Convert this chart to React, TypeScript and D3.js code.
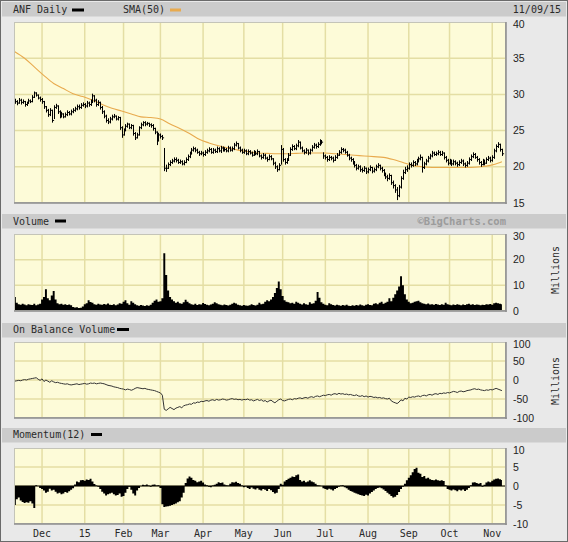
import React from 'react';
import * as d3 from 'd3';

// ---------- DATA ----------
const monthLabels = ["Dec", "15", "Feb", "Mar", "Apr", "May", "Jun", "Jul", "Aug", "Sep", "Oct", "Nov"];
const monthStartDays = [14, 36, 56, 75, 97, 118, 138, 160, 182, 203, 224, 246];

const closes = [
  29.0, 28.8, 29.2, 28.9, 29.0, 28.6, 28.8, 29.1, 29.0, 29.6,
  30.2, 29.9, 29.5, 29.3, 29.0, 28.3, 27.8, 27.2, 27.8, 26.4,
  28.2, 28.4, 27.6, 27.0, 27.3, 26.9, 27.2, 27.5, 27.3, 27.6,
  27.8, 28.0, 28.3, 28.2, 28.5, 28.6, 28.4, 28.8, 28.6, 29.0,
  29.8, 29.2, 28.6, 28.9, 28.2, 27.6, 27.0, 26.4, 26.2, 26.6,
  26.9, 27.0, 26.6, 26.8, 25.4, 24.4, 25.0, 25.6, 25.9, 25.4,
  25.7, 24.6, 24.0, 24.4, 25.4, 25.8, 26.1, 25.9, 26.0, 25.8,
  25.7, 25.3, 24.8, 23.6, 24.4, 24.2, 24.0, 19.8, 19.8, 20.3,
  20.6, 20.8, 21.0, 20.9, 20.6, 20.7, 20.4, 20.6, 21.0, 21.4,
  21.8, 22.3, 22.5, 22.3, 22.0, 21.8, 21.9, 21.7, 22.0, 22.2,
  22.4, 22.0, 22.3, 22.1, 22.5, 22.2, 22.6, 22.3, 22.4, 22.2,
  22.6, 22.3, 22.5, 23.0, 23.2, 22.6, 22.3, 22.0, 22.2, 21.8,
  22.1, 21.9, 21.6, 22.0, 21.8, 22.1, 21.5, 21.3, 21.6, 21.2,
  21.0, 21.4, 21.1, 20.5, 20.0, 19.6, 20.2, 22.4, 21.0, 20.6,
  20.9, 21.6, 22.4, 22.8, 22.5, 22.9, 23.4, 22.6, 22.2, 22.0,
  22.3, 21.9, 22.3, 22.7, 23.0, 22.8, 23.1, 23.5, 23.4, 21.5,
  21.3, 21.0, 21.3, 21.2, 20.9, 21.3, 21.6, 22.0, 22.4, 22.3,
  22.0, 21.6, 21.2, 21.0, 20.6, 20.2, 19.8, 20.0, 19.6, 19.5,
  19.8, 19.3, 19.6, 19.9, 19.4, 19.6, 20.0, 20.2, 19.8, 19.5,
  19.0, 18.6, 18.4, 18.8, 17.8, 17.4, 16.8, 16.0, 17.2, 18.4,
  19.2, 19.6, 19.8, 20.3, 20.2, 20.6, 20.4, 20.8, 21.1, 21.3,
  19.9, 20.4, 20.8, 21.2, 21.5, 21.9, 21.7, 21.8, 22.0, 21.7,
  21.9, 21.3, 20.9, 20.5, 20.8, 20.4, 20.7, 20.5, 20.3, 20.6,
  20.8, 20.4, 20.2, 20.5, 21.0, 21.4, 21.7, 21.3, 21.0, 20.6,
  20.3, 20.8, 20.5, 21.0, 21.2, 20.9, 21.3, 22.2, 22.8, 23.1,
  22.4, 21.8,
];

const highs = [
  29.4, 29.2, 29.5, 29.4, 29.3, 29.1, 29.0, 29.4, 29.3, 29.9,
  30.4, 30.3, 30.0, 29.7, 29.5, 29.1, 28.4, 28.0, 28.1, 27.9,
  28.5, 28.7, 28.5, 27.8, 27.6, 27.4, 27.5, 27.8, 27.7, 27.9,
  28.1, 28.3, 28.6, 28.6, 28.8, 28.9, 28.8, 29.1, 29.0, 29.3,
  30.1, 29.9, 29.4, 29.2, 29.0, 28.4, 27.8, 27.2, 26.7, 26.9,
  27.2, 27.3, 27.1, 27.0, 26.9, 25.6, 25.3, 25.9, 26.1, 26.0,
  25.9, 25.8, 24.8, 24.7, 25.6, 26.1, 26.3, 26.3, 26.2, 26.1,
  26.0, 25.9, 25.4, 24.9, 24.7, 24.6, 24.4, 22.6, 20.3, 20.6,
  20.9, 21.1, 21.3, 21.3, 21.1, 21.0, 20.9, 20.9, 21.3, 21.7,
  22.1, 22.6, 22.8, 22.7, 22.5, 22.2, 22.2, 22.1, 22.3, 22.5,
  22.7, 22.6, 22.6, 22.5, 22.8, 22.7, 22.9, 22.8, 22.7, 22.6,
  22.9, 22.8, 22.8, 23.3, 23.5, 23.3, 22.8, 22.5, 22.5, 22.4,
  22.4, 22.3, 22.1, 22.3, 22.2, 22.4, 22.2, 21.7, 21.9, 21.8,
  21.4, 21.7, 21.6, 21.2, 20.7, 20.2, 20.5, 23.0, 22.6, 21.2,
  21.2, 21.9, 22.7, 23.1, 23.0, 23.2, 23.7, 23.5, 22.8, 22.4,
  22.6, 22.4, 22.5, 23.0, 23.3, 23.2, 23.4, 23.8, 23.7, 22.0,
  21.7, 21.5, 21.6, 21.5, 21.4, 21.6, 21.9, 22.3, 22.7, 22.6,
  22.5, 22.2, 21.8, 21.4, 21.2, 20.8, 20.4, 20.3, 20.2, 19.9,
  20.1, 19.9, 19.9, 20.2, 20.0, 19.9, 20.3, 20.5, 20.3, 20.0,
  19.7, 19.2, 18.9, 19.1, 18.9, 18.1, 17.6, 17.2, 17.5, 18.7,
  19.6, 20.0, 20.2, 20.6, 20.6, 20.9, 20.8, 21.1, 21.4, 21.7,
  21.4, 20.7, 21.1, 21.5, 21.8, 22.2, 22.1, 22.1, 22.3, 22.2,
  22.2, 22.0, 21.5, 21.1, 21.1, 21.0, 21.0, 20.9, 20.7, 20.9,
  21.1, 21.0, 20.6, 20.8, 21.3, 21.7, 22.0, 21.9, 21.5, 21.2,
  20.8, 21.1, 21.0, 21.3, 21.5, 21.4, 21.6, 22.5, 23.1, 23.4,
  23.2, 22.5,
];

const lows = [
  28.7, 28.5, 28.7, 28.6, 28.7, 28.3, 28.4, 28.7, 28.8, 28.9,
  29.5, 29.7, 29.3, 29.0, 28.7, 28.0, 27.5, 26.9, 27.0, 26.1,
  26.6, 28.0, 27.3, 26.7, 26.8, 26.7, 26.8, 27.0, 27.1, 27.1,
  27.4, 27.6, 27.8, 27.9, 28.0, 28.3, 28.1, 28.2, 28.3, 28.4,
  28.8, 28.9, 28.3, 28.4, 27.9, 27.3, 26.7, 26.1, 25.9, 26.0,
  26.4, 26.7, 26.4, 26.4, 25.1, 24.0, 24.3, 24.9, 25.4, 25.2,
  25.2, 24.3, 23.7, 23.9, 24.3, 25.2, 25.6, 25.6, 25.7, 25.5,
  25.4, 25.0, 24.5, 23.0, 23.5, 23.9, 23.7, 19.4, 19.3, 19.7,
  20.1, 20.4, 20.6, 20.6, 20.4, 20.4, 20.2, 20.2, 20.5, 20.8,
  21.2, 21.7, 22.1, 22.0, 21.8, 21.5, 21.6, 21.4, 21.5, 21.8,
  22.0, 21.8, 21.8, 21.9, 21.9, 22.0, 21.9, 22.1, 22.1, 22.0,
  22.0, 22.1, 22.1, 22.3, 22.8, 22.4, 22.0, 21.8, 21.8, 21.6,
  21.6, 21.7, 21.4, 21.5, 21.6, 21.6, 21.3, 21.0, 21.1, 21.0,
  20.7, 20.9, 20.9, 20.2, 19.7, 19.3, 19.5, 20.3, 20.7, 20.3,
  20.4, 20.8, 21.5, 22.2, 22.3, 22.3, 22.7, 22.4, 22.0, 21.7,
  21.8, 21.6, 21.7, 22.1, 22.5, 22.5, 22.6, 22.9, 23.1, 21.1,
  21.0, 20.7, 20.8, 20.9, 20.6, 20.8, 21.1, 21.5, 21.8, 22.0,
  21.8, 21.4, 20.9, 20.7, 20.3, 19.9, 19.5, 19.6, 19.3, 19.2,
  19.3, 19.0, 19.1, 19.4, 19.1, 19.2, 19.4, 19.8, 19.5, 19.2,
  18.7, 18.3, 18.0, 18.2, 17.5, 17.0, 16.4, 15.4, 15.8, 17.0,
  18.2, 19.0, 19.3, 19.6, 19.9, 20.0, 20.1, 20.2, 20.6, 20.9,
  19.2, 19.7, 20.2, 20.6, 21.0, 21.3, 21.5, 21.5, 21.6, 21.5,
  21.5, 21.0, 20.6, 20.2, 20.3, 20.1, 20.2, 20.2, 20.0, 20.1,
  20.4, 20.1, 19.9, 20.0, 20.3, 20.8, 21.2, 21.1, 20.7, 20.3,
  20.0, 20.2, 20.2, 20.4, 20.8, 20.6, 20.7, 21.1, 22.0, 22.6,
  22.1, 21.5,
];

const smaDays = [0, 5, 10, 15, 20, 25, 30, 35, 40, 45, 50, 55, 60, 65, 70, 75, 80, 85, 90, 95, 100,
  105, 110, 115, 120, 125, 130, 135, 140, 145, 150, 155, 160, 165, 170, 175, 180, 185, 190, 195, 200,
  205, 210, 215, 220, 225, 230, 235, 240, 245, 250, 251];
const smaValues = [35.9, 35.0, 33.8, 32.6, 31.5, 30.8, 30.1, 29.7, 29.2, 28.6, 28.1, 27.7, 27.3, 26.9, 26.8, 26.6, 25.9, 25.3, 24.6, 23.8, 23.3,
  22.9, 22.6, 22.3, 22.1, 21.9, 21.85, 21.8, 21.8, 21.85, 21.9, 21.9, 21.9, 21.8, 21.7, 21.6, 21.5, 21.4, 21.3, 21.0, 20.6,
  20.2, 20.0, 19.9, 19.9, 19.9, 19.9, 19.9, 20.0, 20.2, 20.6, 20.7];

const volumes = [
  5.5, 3.2, 2.6, 2.4, 2.8, 2.5, 2.2, 2.6, 2.4, 2.3,
  2.8, 2.2, 2.5, 2.8, 4.5, 5.5, 8.5, 5.0, 4.2, 6.0,
  7.8, 4.5, 3.0, 2.6, 2.8, 2.4, 2.6, 2.3, 2.5, 2.2,
  1.6, 1.4, 1.5, 1.2, 1.3, 1.8, 2.6, 3.0, 4.2, 3.5,
  3.2, 2.6, 2.4, 2.8, 2.5, 2.4, 2.7, 2.5, 2.9, 2.4,
  2.3, 2.6, 2.2, 2.5, 3.0, 2.8, 3.6, 4.2, 3.0, 2.4,
  3.8, 3.2, 2.6, 2.2, 2.0, 2.3, 2.1, 1.9, 2.2, 2.0,
  2.4, 3.2, 4.0, 4.5, 3.6, 3.8, 5.0, 22.5, 14.0, 8.0,
  5.5, 4.5, 3.8, 3.2, 3.6, 3.0, 2.8, 3.4, 4.4, 3.6,
  3.0, 2.6, 2.4, 2.8, 2.3, 2.6, 2.5, 3.1, 2.7, 2.4,
  2.2, 2.5, 2.8, 3.4, 3.0, 2.6, 2.4, 2.2, 2.5, 2.3,
  2.1, 2.4, 2.8, 3.2, 2.9, 2.4, 2.2, 2.0, 2.3, 2.1,
  2.0, 2.2, 2.6, 2.3, 2.1, 2.4, 3.2, 2.6, 2.8, 3.6,
  4.2, 3.8, 4.5, 5.5, 7.0, 9.0, 11.5, 8.5, 5.8, 4.2,
  3.6, 3.4, 3.0, 3.2, 2.8, 3.6, 3.2, 2.8, 2.5, 3.0,
  2.6, 2.4, 3.4, 2.8, 3.0, 4.0, 7.4, 5.2, 3.4, 2.8,
  2.4, 2.2, 3.0, 2.6, 2.3, 2.1, 2.4, 2.2, 2.0, 2.3,
  2.1, 2.4, 2.0, 1.9, 2.2, 2.0, 2.3, 2.1, 2.5, 2.2,
  2.0, 2.4, 2.6, 2.3, 2.2, 2.8, 3.0, 2.6, 3.2, 3.6,
  2.8, 3.2, 3.6, 5.0, 3.8, 5.2, 6.5, 8.0, 9.5, 13.5,
  10.0, 6.5, 4.5, 3.6, 3.0, 3.2, 3.6, 3.8, 4.0, 3.4,
  3.0, 2.8, 2.6, 2.9, 2.5, 2.6, 2.4, 2.7, 2.5, 2.3,
  2.6, 2.4, 3.2, 2.6, 2.4, 2.2, 2.5, 2.3, 2.6, 2.4,
  2.2, 2.5, 2.3, 2.6, 2.8, 2.4, 2.6, 2.3, 2.5, 2.4,
  2.2, 2.4, 2.3, 2.6, 2.5, 2.7, 2.4, 3.0, 3.2, 3.0,
  2.8, 2.6,
];

const obv = [
  -3, -2, -1, -2, 0, 1, 0, 2, 3, 4,
  5, 6, 2, -1, 3, -4, 0, -3, -6, -2,
  -5, -7, -6, -8, -9, -10, -11, -10, -12, -13,
  -12, -11, -10, -12, -11, -10, -9, -11, -10, -8,
  -9, -8, -10, -9, -8, -9, -10, -12, -14, -15,
  -16, -18, -19, -20, -22, -23, -24, -26, -24, -25,
  -27, -25, -22, -20, -21, -22, -23, -22, -24, -25,
  -26, -27, -28, -30, -32, -34, -40, -77, -80, -76,
  -72, -75, -78, -74, -72, -70, -73, -68, -66, -65,
  -63, -64, -60, -61, -58, -59, -56, -57, -55, -54,
  -56, -53, -52, -54, -51, -53, -52, -50, -51, -53,
  -52, -50, -49, -51, -50, -52, -51, -53, -51, -52,
  -50, -53, -52, -55, -53, -51, -54, -52, -56, -54,
  -58, -55, -53, -57, -60, -56, -52, -50, -54, -55,
  -53, -51, -50, -52, -49, -50, -48, -47, -49, -47,
  -46, -48, -45, -44, -46, -43, -42, -44, -42, -40,
  -41, -39, -38, -40, -37, -36, -38, -35, -37, -36,
  -38, -37, -39, -38, -40, -41, -39, -42, -43, -41,
  -44, -42, -45, -43, -44, -46, -45, -47, -46, -48,
  -47, -49, -50, -48, -55, -58, -60, -62, -58, -52,
  -55, -48, -50, -45, -46, -44, -45, -43, -42, -44,
  -41, -40, -42, -39, -38, -40, -37, -36, -38, -35,
  -36, -34, -35, -33, -34, -32, -30, -31, -33, -30,
  -29, -31, -30, -28, -27, -26, -24, -23, -25, -24,
  -26, -27, -28, -26, -27, -25, -26, -24, -22, -24,
  -26, -28,
];

const momentum = [
  -5.0, -3.5, -3.0, -3.8, -4.2, -4.5, -4.3, -4.4, -4.0, -4.6,
  -5.8, 0.2, 0.0, -0.5, -0.8, -1.2, -1.8, -1.5, -0.7, -1.2,
  -1.0, -1.5, -2.0, -1.8, -2.2, -2.0, -1.6, -1.8, -1.4, -1.0,
  -0.6, 0.4, 1.2, 1.0, 1.5, 1.6, 1.4, 1.7, 1.6, 1.9,
  1.2, 0.5, 0.1, -0.2, -0.8, -1.5, -2.0, -2.5, -2.2, -2.0,
  -1.8, -2.2, -2.5, -2.4, -2.0, -2.8, -2.6, -1.8, -0.8, -0.2,
  -1.0, -2.0, -2.5, -1.2, -0.5, 0.0, 0.3, 0.2, 0.4, 0.1,
  -0.2, 0.3, 0.4, 0.1, 0.2, -0.5, -4.8, -5.5, -5.4, -5.3,
  -5.2, -5.0, -4.8, -4.6, -4.3, -4.0, -3.0, -1.8, 0.8, 2.0,
  2.5, 2.2, 1.6, 1.4, 1.0, 1.2, 1.4, 0.9, 0.4, 0.2,
  -0.2, -0.3, 0.1, 0.3, 0.6, 1.0, 0.8, 0.9, 0.4, 0.2,
  0.1, 0.6, 1.0, 0.9, 1.1, 0.8, 0.6, 0.1, -0.3, -0.1,
  -0.5, -0.8, -0.4, -0.7, -0.9, -0.6, -1.0, -1.2, -0.8, -1.0,
  -1.3, -0.8, -1.1, -1.6, -2.0, -1.8, -0.8, 0.6, 0.3, 1.2,
  1.6, 1.9, 2.2, 2.5, 2.4, 2.8, 3.0, 1.6, 1.2, 1.4,
  1.0, 1.2, 1.5, 1.2, 1.0, 0.6, 0.2, 0.1, 0.0, -0.6,
  -0.8, -1.0, -0.7, -0.9, -1.2, -0.8, -0.5, -0.2, 0.1, 0.2,
  -0.3, -0.6, -1.0, -1.3, -1.5, -1.8, -2.0, -2.2, -2.4, -2.5,
  -2.6, -2.3, -2.5, -2.0, -1.6, -1.2, -0.8, -0.5, -0.4, -0.6,
  -0.9, -1.3, -1.8, -2.2, -2.6, -3.0, -2.8, -2.4, -1.6, -0.8,
  -0.2, 0.6, 1.5, 2.2, 2.8, 3.6, 4.5, 4.8, 3.5, 3.2,
  2.4, 2.6, 2.0, 2.2, 1.8, 1.6, 1.5, 1.7, 1.5, 1.4,
  1.5, 1.3, 0.2, -0.8, -1.0, -1.2, -0.9, -1.1, -1.4, -1.0,
  -1.2, -0.9, -1.3, -1.0, -0.5, 0.2, 0.9, 1.0, 0.8, 0.6,
  0.8, -0.2, 0.3, 0.9, 1.2, 1.0, 1.4, 1.7, 1.9, 2.0,
  1.8, 1.6,
];

const priceTicks = [15, 20, 25, 30, 35, 40];
const volumeTicks = [0, 10, 20, 30];
const obvTicks = [-100, -50, 0, 50, 100];
const momentumTicks = [-10, -5, 0, 5, 10];

// ---------- LAYOUT / STYLE ----------
const W = 568, H = 542;
const X0 = 14, X1 = 506;
const MONO = '"DejaVu Sans Mono", monospace';
const SANS = '"Liberation Sans", Arial, sans-serif';
const PLOT_BG = '#fdfbd8';
const GRID = '#e4dea4';
const BAR_BG = '#cbcbcb';
const SMA_COLOR = '#e8aa4e';

const x = d3.scaleLinear().domain([-0.45, 253.1]).range([X0, X1]);
const days = d3.range(closes.length);

type PanelProps = {
  id: string;
  top: number;
  bottom: number;
  y: d3.ScaleLinear<number, number>;
  ticks: number[];
  children?: React.ReactNode;
};

function Panel({ id, top, bottom, y, ticks, children }: PanelProps) {
  const [d0, d1] = y.domain();
  const lo = Math.min(d0, d1), hi = Math.max(d0, d1);
  return (
    <g>
      <defs>
        <clipPath id={id}>
          <rect x={X0} y={top} width={X1 - X0} height={bottom - top} />
        </clipPath>
      </defs>
      <rect x={X0} y={top} width={X1 - X0} height={bottom - top} fill={PLOT_BG} />
      {ticks.filter(t => t > lo && t < hi).map(t => (
        <line key={'h' + t} x1={X0} x2={X1} y1={y(t)} y2={y(t)} stroke={GRID} strokeWidth={1.5} />
      ))}
      {monthStartDays.map(d => (
        <line key={'v' + d} x1={x(d)} x2={x(d)} y1={top} y2={bottom} stroke={GRID} strokeWidth={1.5} />
      ))}
      <g clipPath={`url(#${id})`}>{children}</g>
      <rect x={X0 + 0.5} y={top + 0.5} width={X1 - X0 - 1} height={bottom - top - 1} fill="none" stroke="#c4c4b8" strokeWidth={1} />
      <line x1={X1} x2={X1} y1={top} y2={bottom + 1} stroke="#8c8c8c" strokeWidth={1.5} />
      <line x1={X0} x2={X1 + 0.7} y1={bottom} y2={bottom} stroke="#8c8c8c" strokeWidth={1.5} />
      {ticks.map(t => {
        let ty = y(t) + 3.6;
        if (ty < top + 5) ty = top + 6;
        return (
          <text key={'t' + t} x={513} y={ty} fontFamily={SANS} fontSize={10.5} fill="#222">{t}</text>
        );
      })}
    </g>
  );
}

function HeaderBar({ y, children }: { y: number; children?: React.ReactNode }) {
  return (
    <g>
      <rect x={2} y={y} width={W - 4} height={14.5} fill={BAR_BG} />
      {children}
    </g>
  );
}

export default function App() {
  // Price panel
  const yPrice = d3.scaleLinear().domain([15, 40]).range([203, 22]);
  let barPath = '';
  days.forEach(i => {
    const xi = Math.round(x(i)) + 0.5;
    barPath += `M${xi},${yPrice(highs[i])}V${yPrice(lows[i])}`;
    barPath += `M${xi},${yPrice(closes[i])}h1.6`;
  });
  const smaLine = d3.line<number>()
    .x((_, k) => x(smaDays[k]))
    .y(v => yPrice(v))
    .curve(d3.curveMonotoneX)(smaValues) || '';

  // Volume
  const yVol = d3.scaleLinear().domain([0, 30]).range([311, 234]);
  const volArea = d3.area<number>()
    .x((_, i) => x(i))
    .y0(yVol(0))
    .y1(v => yVol(v))
    .curve(d3.curveStep)(volumes) || '';

  // OBV
  const yObv = d3.scaleLinear().domain([-100, 100]).range([418, 342]);
  const obvLine = d3.line<number>()
    .x((_, i) => x(i))
    .y(v => yObv(v))(obv) || '';

  // Momentum
  const yMom = d3.scaleLinear().domain([-10, 10]).range([524, 448]);
  const momArea = d3.area<number>()
    .x((_, i) => x(i))
    .y0(yMom(0))
    .y1(v => yMom(v))
    .curve(d3.curveStep)(momentum) || '';

  const headText = { fontFamily: MONO, fontSize: 10, fill: '#2a2a2a' } as const;

  return (
    <div style={{ position: 'absolute', left: 0, top: 0, width: W, height: H }}>
      <svg width={W} height={H} viewBox={`0 0 ${W} ${H}`} style={{ display: 'block' }}>
        <rect x={0} y={0} width={W} height={H} fill="#e9e9e9" />
        <rect x={0.5} y={0.5} width={W - 1} height={H - 1} fill="none" stroke="#6a6a6a" strokeWidth={1} />

        {/* Price header */}
        <HeaderBar y={2}>
          <text x={13} y={13} {...headText}>ANF Daily</text>
          <rect x={72} y={8.5} width={12} height={3} fill="#000" />
          <text x={123} y={13} {...headText}>SMA(50)</text>
          <rect x={170} y={8.5} width={11} height={3} fill={SMA_COLOR} />
          <text x={561} y={13} textAnchor="end" {...headText}>11/09/15</text>
        </HeaderBar>

        <Panel id="clipPrice" top={22} bottom={203} y={yPrice} ticks={priceTicks}>
          <path d={smaLine} fill="none" stroke={SMA_COLOR} strokeWidth={1.1} />
          <path d={barPath} fill="none" stroke="#000" strokeWidth={1} />
        </Panel>

        {/* Volume */}
        <HeaderBar y={214}>
          <text x={13} y={224.5} {...headText}>Volume</text>
          <rect x={55} y={219.5} width={11} height={3} fill="#000" />
          <text x={506} y={225} textAnchor="end" fontFamily={MONO} fontWeight="bold" fontSize={10.5} fill="#9c9c9c">©BigCharts.com</text>
        </HeaderBar>
        <Panel id="clipVol" top={234} bottom={311} y={yVol} ticks={volumeTicks}>
          <path d={volArea} fill="#000" />
        </Panel>
        <text transform="translate(559,270) rotate(-90)" textAnchor="middle" {...headText}>Millions</text>

        {/* OBV */}
        <HeaderBar y={323}>
          <text x={13} y={333} {...headText}>On Balance Volume</text>
          <rect x={117} y={328} width={12} height={3} fill="#000" />
        </HeaderBar>
        <Panel id="clipObv" top={342} bottom={418} y={yObv} ticks={obvTicks}>
          <path d={obvLine} fill="none" stroke="#333" strokeWidth={1} />
        </Panel>
        <text transform="translate(559,381) rotate(-90)" textAnchor="middle" {...headText}>Millions</text>

        {/* Momentum */}
        <HeaderBar y={428}>
          <text x={13} y={438} {...headText}>Momentum(12)</text>
          <rect x={91} y={433} width={11} height={3} fill="#000" />
        </HeaderBar>
        <Panel id="clipMom" top={448} bottom={524} y={yMom} ticks={momentumTicks}>
          <path d={momArea} fill="#000" />
          <line x1={X0} x2={X1} y1={yMom(0)} y2={yMom(0)} stroke="#000" strokeWidth={1} />
        </Panel>

        {/* Month labels */}
        {monthLabels.map((m, k) => (
          <text key={m} x={x(monthStartDays[k])} y={537} textAnchor="middle" {...headText}>{m}</text>
        ))}
      </svg>
    </div>
  );
}
